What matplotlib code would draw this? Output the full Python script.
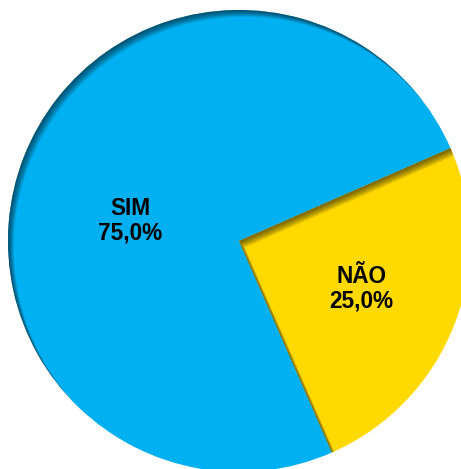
import numpy as np
import matplotlib.pyplot as plt
from matplotlib.patches import PathPatch, Wedge
from matplotlib.path import Path

# Dati del grafico
categorie = ['SIM', 'NÃO']
valori = [75.0, 25.0]
colori = ['#00B0F0', '#FFD900']

plt.rcParams['font.family'] = ['Liberation Sans', 'DejaVu Sans']

fig = plt.figure(figsize=(4.61, 4.69), dpi=100)
ax = fig.add_axes([0, 0, 1, 1])


def etichetta(p):
    return f"{p:.1f}".replace('.', ',') + '%'


wedges, _, autotexts = ax.pie(
    valori, colors=colori, startangle=23.7, counterclock=True,
    autopct=etichetta, pctdistance=0.57,
    wedgeprops=dict(linewidth=0),
    textprops=dict(fontsize=16.3, fontweight='bold', color='black'),
)
for t, nome in zip(autotexts, categorie):
    t.set_text(nome + '\n' + t.get_text())
    t.set_linespacing(1.12)
autotexts[0].set_position((-0.472, 0.088))

# Centro (239, 241) px e raggio 231 px -> limiti in unita' del raggio
R = 231.0
ax.set_aspect('auto')
ax.set_xlim(-239 / R, (461 - 239) / R)
ax.set_ylim(-(469 - 241) / R, 241 / R)
ax.axis('off')

# Ombra interna: bordi in alto a sinistra scuriti
rect = Path([(-5, -5), (-5, 5), (5, 5), (5, -5), (-5, -5)],
            [Path.MOVETO, Path.LINETO, Path.LINETO, Path.LINETO, Path.CLOSEPOLY])
direzione = np.array([0.65, -0.76])
for w in wedges:
    for k in range(1, 13):
        off = direzione * (k * 0.75 / R)
        c = np.array(w.center) + off
        sw = Wedge(tuple(c), w.r, w.theta1, w.theta2)
        buco = sw.get_path()
        p = Path.make_compound_path(rect, buco)
        ombra = PathPatch(p, facecolor='black', alpha=0.06, lw=0)
        ax.add_patch(ombra)
        ombra.set_clip_path(w)

fig.savefig('out.png', dpi=100)
